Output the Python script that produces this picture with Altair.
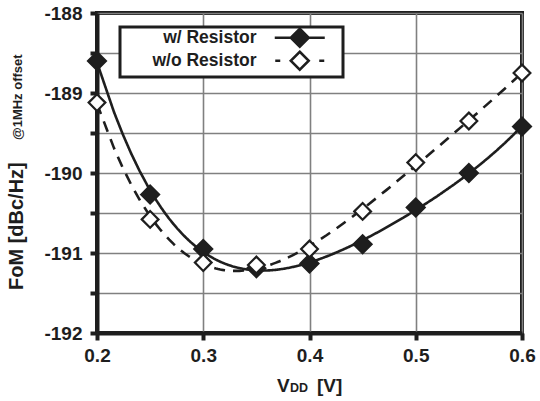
import altair as alt
import pandas as pd

# ---- data ----
vdd = [0.2, 0.25, 0.3, 0.35, 0.4, 0.45, 0.5, 0.55, 0.6]
fom_with = [-188.60, -190.27, -190.95, -191.19, -191.13, -190.89, -190.43, -190.00, -189.42]
fom_without = [-189.12, -190.58, -191.12, -191.15, -190.95, -190.48, -189.87, -189.35, -188.75]
series_names = ["w/ Resistor", "w/o Resistor"]
x_ticks = [0.2, 0.3, 0.4, 0.5, 0.6]
y_ticks = [-192, -191.5, -191, -190.5, -190, -189.5, -189, -188.5, -188]

rows = []
for s, vals in zip(series_names, [fom_with, fom_without]):
    for v, f in zip(vdd, vals):
        rows.append({"vdd": v, "fom": f, "series": s})
df = pd.DataFrame(rows)

FONT = "Liberation Sans"
INK = "#1e1e1e"
GRID = "#808080"

x_enc = alt.X("vdd:Q", scale=alt.Scale(domain=[0.2, 0.6], nice=False, zero=False),
              axis=alt.Axis(values=x_ticks, format=".1f", title=None, grid=True,
                            gridColor=GRID, gridWidth=1.6, domainColor=INK, domainWidth=4,
                            tickColor=INK, tickWidth=4, tickSize=7, labelPadding=6,
                            labelFont=FONT, labelFontSize=19, labelFontWeight="bold",
                            labelColor=INK, labelFlush=False))
y_enc = alt.Y("fom:Q", scale=alt.Scale(domain=[-192, -188], nice=False, zero=False),
              axis=alt.Axis(values=y_ticks, title=None, grid=True, gridColor=GRID, gridWidth=1.6,
                            labelExpr="datum.value % 1 == 0 ? ('' + datum.value) : ''",
                            domainColor=INK, domainWidth=4, tickColor=INK, tickWidth=4,
                            tickSize=7, labelPadding=8, labelFont=FONT, labelFontSize=19,
                            labelFontWeight="bold", labelColor=INK, labelFlush=False))

base = alt.Chart(df)


def fit_line(name, dash):
    return base.transform_filter(alt.datum.series == name).transform_regression(
        "vdd", "fom", method="poly", order=4, extent=[0.2, 0.6]
    ).mark_line(color=INK, strokeWidth=2.6, strokeDash=dash).encode(x=x_enc, y=y_enc)


line_with = fit_line(series_names[0], [1, 0])
line_without = fit_line(series_names[1], [11, 8])

pts_with = base.transform_filter(alt.datum.series == series_names[0]).mark_point(
    shape="diamond", filled=True, fill=INK, stroke=INK, strokeWidth=2, size=330, opacity=1
).encode(x=x_enc, y=y_enc)

pts_without = base.transform_filter(alt.datum.series == series_names[1]).mark_point(
    shape="diamond", filled=True, fill="white", stroke=INK, strokeWidth=2.2, size=280, opacity=1
).encode(x=x_enc, y=y_enc)

# legend symbols: line + diamond (last zero-length piece only widens the frame)
path_with = "M-5,0H5M0,-1.8L1.8,0L0,1.8L-1.8,0ZM7.2,0L7.2,0"
path_without = "M-4.9,0H-3.9M3.9,0H4.9M0,-1.8L1.8,0L0,1.8L-1.8,0ZM7.2,0L7.2,0"

legend_props = dict(
    title=None, orient="none", legendX=23, legendY=14, padding=2,
    strokeColor=INK, fillColor="white",
    labelFont=FONT, labelFontSize=17.5, labelFontWeight="bold", labelColor=INK,
    labelAlign="right", labelOffset={"expr": "-52"}, symbolOffset=169, symbolSize=100,
    symbolStrokeColor=INK, symbolStrokeWidth=2.5, rowPadding={"expr": "-8"},
)

legend_layer = base.transform_filter("false").mark_point(
    filled=True, size=100, stroke=INK, strokeWidth=2.5, opacity=1
).encode(
    shape=alt.Shape("series:N", scale=alt.Scale(domain=series_names, range=[path_with, path_without]),
                    legend=alt.Legend(**legend_props)),
    fill=alt.Fill("series:N", scale=alt.Scale(domain=series_names, range=[INK, "white"]),
                  legend=alt.Legend(**legend_props)),
    stroke=alt.Stroke("series:N", scale=alt.Scale(domain=series_names, range=[INK, INK]),
                      legend=alt.Legend(**legend_props)),
)

ytitle_main = alt.Chart(alt.Data(values=[{"t": "FoM [dBc/Hz]"}])).mark_text(
    font=FONT, fontSize=20, fontWeight="bold", color=INK, angle=270, align="left", baseline="middle"
).encode(x=alt.value(-80), y=alt.value(277), text="t:N")

ytitle_sub = alt.Chart(alt.Data(values=[{"t": "@1MHz offset"}])).mark_text(
    font=FONT, fontSize=13, fontWeight="bold", color=INK, angle=270, align="left", baseline="middle"
).encode(x=alt.value(-79), y=alt.value(127), text="t:N")

xt_v = alt.Chart(alt.Data(values=[{"t": "V"}])).mark_text(
    font=FONT, fontSize=19, fontWeight="bold", color=INK, align="left", baseline="alphabetic"
).encode(x=alt.value(180), y=alt.value(379), text="t:N")
xt_dd = alt.Chart(alt.Data(values=[{"t": "DD"}])).mark_text(
    font=FONT, fontSize=12.5, fontWeight="bold", color=INK, align="left", baseline="alphabetic"
).encode(x=alt.value(193), y=alt.value(379), text="t:N")
xt_unit = alt.Chart(alt.Data(values=[{"t": "[V]"}])).mark_text(
    font=FONT, fontSize=19, fontWeight="bold", color=INK, align="left", baseline="alphabetic"
).encode(x=alt.value(220), y=alt.value(379), text="t:N")

chart = alt.layer(
    line_with, line_without, pts_with, pts_without, legend_layer,
    ytitle_main, ytitle_sub, xt_v, xt_dd, xt_unit
).properties(
    width=425, height=320,
    autosize=alt.AutoSizeParams(type="none"),
    padding={"left": 97, "top": 13, "right": 18, "bottom": 68},
    background="white",
).configure_view(stroke=INK, strokeWidth=4).configure_legend(strokeWidth=3)

chart.save("out.html", embed_options={"renderer": "svg", "actions": False})
